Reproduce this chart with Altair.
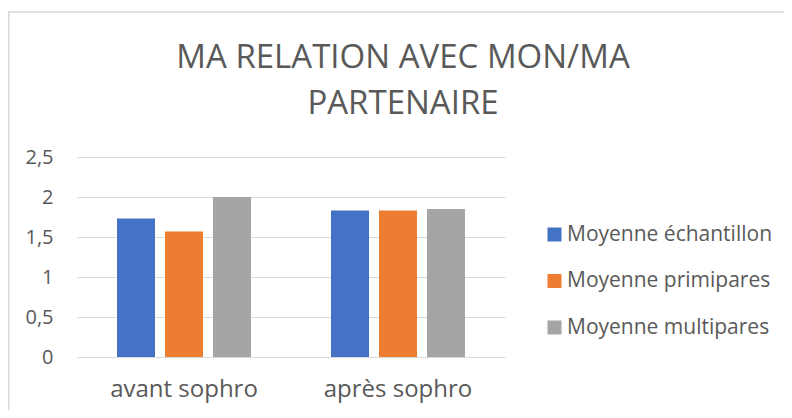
import altair as alt
import pandas as pd

groups = ["avant sophro", "après sophro"]
series = ["Moyenne échantillon", "Moyenne primipares", "Moyenne multipares"]
echantillon = [1.73, 1.83]
primipares = [1.57, 1.83]
multipares = [2.0, 1.85]
colors = ["#4472C4", "#ED7D31", "#A5A5A5"]
y_ticks = [0, 0.5, 1, 1.5, 2, 2.5]
title_lines = ["MA RELATION AVEC MON/MA", "PARTENAIRE"]

rows = []
for name, vals in zip(series, [echantillon, primipares, multipares]):
    for g, v in zip(groups, vals):
        rows.append({"groupe": g, "serie": name, "valeur": v})
df = pd.DataFrame(rows)

FONT = "Open Sans"
GREY = "#595959"

bars = alt.Chart(df).mark_bar().encode(
    x=alt.X("groupe:N", sort=groups, title=None,
            scale=alt.Scale(paddingInner=0.374, paddingOuter=0.187),
            axis=alt.Axis(labelAngle=0, labelFontSize=24, labelColor=GREY,
                          labelFont=FONT, labelPadding=20, ticks=False,
                          domain=False, grid=False)),
    xOffset=alt.XOffset("serie:N", sort=series,
                        scale=alt.Scale(paddingInner=0.208, paddingOuter=0)),
    y=alt.Y("valeur:Q", title=None,
            scale=alt.Scale(domain=[0, 2.5], nice=False),
            axis=alt.Axis(values=y_ticks, labelFontSize=20, labelColor=GREY,
                          labelFont=FONT, labelPadding=24, ticks=False,
                          domain=False, gridColor="#d9d9d9", gridWidth=1,
                          labelExpr="replace(format(datum.value, '.1~f'), '.', ',')")),
    color=alt.Color("serie:N", sort=series,
                    scale=alt.Scale(domain=series, range=colors),
                    legend=alt.Legend(title=None, orient="none", legendX=467,
                                      legendY=67, symbolType="square",
                                      symbolSize=196, symbolStrokeWidth=0,
                                      labelFontSize=21, labelColor=GREY,
                                      labelFont=FONT, rowPadding=24.5,
                                      labelLimit=400,
                                      symbolOffset=0, labelOffset=2)),
)

border = alt.Chart(alt.Data(values=[{}])).mark_rect(
    fill=None, stroke="#d9d9d9", strokeWidth=1.5
).encode(
    x=alt.value(-68.2), y=alt.value(-145), x2=alt.value(800), y2=alt.value(400)
)

chart = alt.layer(border, bars).properties(
    width=428,
    height=200,
    padding={"left": 69, "top": 149, "right": 279, "bottom": 53},
    autosize=alt.AutoSizeParams(type="none"),
    title=alt.TitleParams(title_lines, fontSize=33, font=FONT, color=GREY,
                          fontWeight="normal", anchor="middle", dx=112,
                          lineHeight=46, offset=0, dy=110, frame="group"),
).configure_view(stroke=None)

chart.save("out.html", embed_options={"renderer": "svg", "actions": False})
